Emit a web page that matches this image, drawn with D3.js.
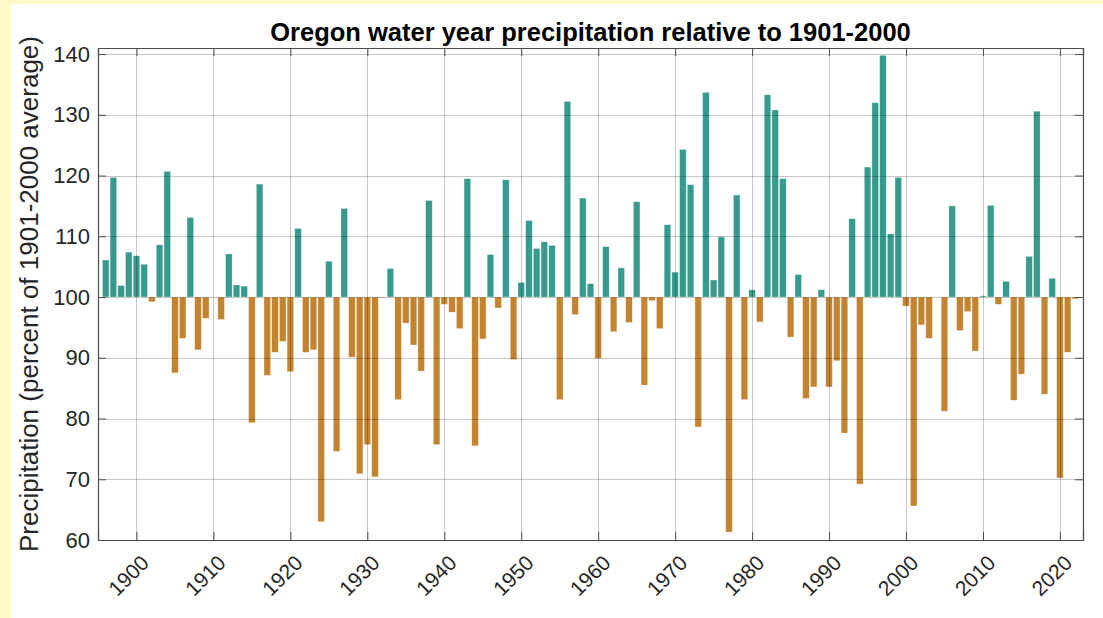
<!DOCTYPE html>
<html>
<head>
<meta charset="utf-8">
<script src="https://cdn.jsdelivr.net/npm/d3@7"></script>
<style>
  body { margin: 0; background: #fff8c9; }
  svg { display: block; }
</style>
</head>
<body>
<svg id="chart"></svg>
<script>
// water years 1896-2022
var years = d3.range(1896, 2023);
var precipPct = [
  106.1, 119.7, 101.9, 107.4, 106.8, 105.4, 99.2, 108.6, 120.7, 87.5,   // 1896-1905
  93.2, 113.1, 91.3, 96.5, 100.0, 96.3, 107.1, 102.0, 101.8, 79.3,      // 1906-1915
  118.6, 87.1, 90.9, 92.7, 87.7, 111.3, 90.9, 91.3, 63.0, 105.9,        // 1916-1925
  74.6, 114.6, 90.1, 70.9, 75.7, 70.4, 99.9, 104.7, 83.1, 95.7,         // 1926-1935
  92.1, 87.8, 115.9, 75.7, 98.8, 97.5, 94.8, 119.5, 75.5, 93.1,         // 1936-1945
  107.0, 98.2, 119.3, 89.7, 102.4, 112.6, 108.0, 109.1, 108.5, 83.1,    // 1946-1955
  132.2, 97.1, 116.3, 102.2, 89.9, 108.3, 94.3, 104.8, 95.8, 115.7,     // 1956-1965
  85.5, 99.4, 94.8, 111.9, 104.1, 124.3, 118.5, 78.6, 133.7, 102.8,     // 1966-1975
  109.9, 61.3, 116.8, 83.1, 101.2, 95.9, 133.3, 130.8, 119.5, 93.4,     // 1976-1985
  103.7, 83.3, 85.2, 101.2, 85.2, 89.5, 77.6, 112.9, 69.2, 121.4,       // 1986-1995
  132.0, 139.8, 110.4, 119.7, 98.5, 65.6, 95.4, 93.2, 100.0, 81.2,      // 1996-2005
  115.0, 94.5, 97.6, 91.1, 100.2, 115.1, 98.8, 102.6, 83.0, 87.3,       // 2006-2015
  106.7, 130.6, 84.0, 103.1, 70.2, 90.9, 99.7                           // 2016-2022
];
var xTicks = [1900, 1910, 1920, 1930, 1940, 1950, 1960, 1970, 1980, 1990, 2000, 2010, 2020];
var yTicks = [60, 70, 80, 90, 100, 110, 120, 130, 140];

var svgWidth = 1103, svgHeight = 618;
var plotLeft = 98, plotRight = 1083, plotTop = 48, plotBottom = 540;

var svg = d3.select('#chart')
    .attr("width", svgWidth)
    .attr("height", svgHeight)
    .style("font-family", "'Liberation Sans', Arial, sans-serif");

// white card on the yellow page
svg.append("rect")
    .attr("x", 11).attr("y", 4)
    .attr("width", svgWidth - 11).attr("height", svgHeight - 4)
    .attr("fill", "#ffffff");

var x = d3.scaleLinear().domain([1895, 2023]).range([plotLeft, plotRight]);
var y = d3.scaleLinear().domain([60, 141]).range([plotBottom, plotTop]);

var barW = (x(1) - x(0)) * 0.86;

var data = years.map(function(yr, i) { return { year: yr, value: precipPct[i] }; });

svg.append("g")
    .selectAll("rect")
    .data(data)
    .enter()
    .append("rect")
    .attr("x", function(d) { return x(d.year) - barW / 2; })
    .attr("y", function(d) { return y(Math.max(d.value, 100)); })
    .attr("width", barW)
    .attr("height", function(d) { return Math.abs(y(d.value) - y(100)); })
    .attr("fill", function(d) { return d.value >= 100 ? "#369a8e" : "#c4832f"; })
    .attr("stroke", "#ffffff")
    .attr("stroke-opacity", 0.6)
    .attr("stroke-width", 0.6);

// grid on top of the bars, like matlab
var grid = svg.append("g")
    .attr("stroke", "#000")
    .attr("stroke-opacity", 0.22)
    .attr("stroke-width", 1);

grid.selectAll(".gx")
    .data(xTicks)
    .enter().append("line")
    .attr("x1", function(d) { return Math.round(x(d)) + 0.5; })
    .attr("x2", function(d) { return Math.round(x(d)) + 0.5; })
    .attr("y1", plotTop).attr("y2", plotBottom);

grid.selectAll(".gy")
    .data(yTicks)
    .enter().append("line")
    .attr("y1", function(d) { return Math.round(y(d)) + 0.5; })
    .attr("y2", function(d) { return Math.round(y(d)) + 0.5; })
    .attr("x1", plotLeft).attr("x2", plotRight);

// axes, ticks inside on all four sides
var axisColor = "#4d4d4d";
var tickLen = 8;

var xAxis = svg.append("g")
    .attr("transform", "translate(0," + plotBottom + ")")
    .call(d3.axisBottom(x).tickValues(xTicks).tickSize(-tickLen).tickFormat(d3.format("d")));
xAxis.selectAll("text")
    .attr("font-size", "21px")
    .attr("fill", "#262626")
    .attr("text-anchor", "end")
    .attr("dy", "0.35em")
    .attr("transform", "translate(8,19) rotate(-45)")
    .attr("y", 0).attr("x", 0);

var xAxisTop = svg.append("g")
    .attr("transform", "translate(0," + plotTop + ")")
    .call(d3.axisTop(x).tickValues(xTicks).tickSize(-tickLen).tickFormat(""));

var yAxis = svg.append("g")
    .attr("transform", "translate(" + plotLeft + ",0)")
    .call(d3.axisLeft(y).tickValues(yTicks).tickSize(-tickLen).tickPadding(8));
yAxis.selectAll("text")
    .attr("font-size", "22px")
    .attr("fill", "#262626");

var yAxisRight = svg.append("g")
    .attr("transform", "translate(" + plotRight + ",0)")
    .call(d3.axisRight(y).tickValues(yTicks).tickSize(-tickLen).tickFormat(""));

[xAxis, xAxisTop, yAxis, yAxisRight].forEach(function(a) {
    a.select(".domain").attr("stroke", axisColor).attr("stroke-width", 1.2);
    a.selectAll(".tick line").attr("stroke", axisColor);
});

// title
svg.append("text")
    .attr("x", (plotLeft + plotRight) / 2)
    .attr("y", 41)
    .attr("text-anchor", "middle")
    .attr("font-size", "25.5px")
    .attr("font-weight", "bold")
    .attr("fill", "#000")
    .text("Oregon water year precipitation relative to 1901-2000");

// y label
svg.append("text")
    .attr("transform", "translate(38," + ((plotTop + plotBottom) / 2) + ") rotate(-90)")
    .attr("text-anchor", "middle")
    .attr("font-size", "26px")
    .attr("fill", "#262626")
    .text("Precipitation (percent of 1901-2000 average)");
</script>
</body>
</html>
